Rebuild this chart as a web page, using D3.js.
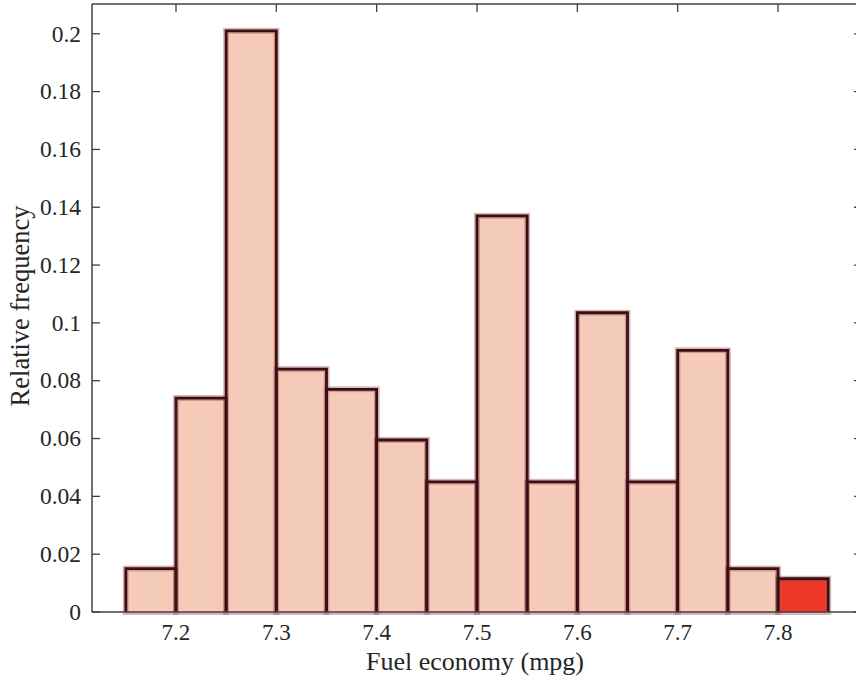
<!DOCTYPE html>
<html>
<head>
<meta charset="utf-8">
<script src="https://cdn.jsdelivr.net/npm/d3@7/dist/d3.min.js"></script>
<style>
  html, body { margin: 0; padding: 0; background: #fff; }
  svg { display: block; }
  svg text { font-family: "Liberation Serif", "DejaVu Serif", serif; fill: #262626; }
</style>
</head>
<body>
<svg id="chart" width="856" height="688" font-family="Liberation Serif, serif"></svg>
<script>
// Histogram bin edges (mpg) and relative frequency per bin
const binStarts = [7.15, 7.20, 7.25, 7.30, 7.35, 7.40, 7.45, 7.50, 7.55, 7.60, 7.65, 7.70, 7.75];
const binWidth = 0.05;
const frequencies = [0.015, 0.074, 0.201, 0.084, 0.077, 0.0595, 0.045, 0.137, 0.045, 0.1035, 0.045, 0.0905, 0.015];
// Highlighted bin (upper tail)
const highlightStarts = [7.80];
const highlightFreqs = [0.0115];

const xTicks = [7.2, 7.3, 7.4, 7.5, 7.6, 7.7, 7.8];
const yTicks = [0, 0.02, 0.04, 0.06, 0.08, 0.1, 0.12, 0.14, 0.16, 0.18, 0.2];

const svg = d3.select("#chart");
const mLeft = 92, mRight = 862, mTop = 4, mBottom = 612;

const x = d3.scaleLinear().domain([7.1163, 7.8837]).range([mLeft, mRight]);
const y = d3.scaleLinear().domain([0, 0.2103]).range([mBottom, mTop]);

const bins = binStarts.map((s, i) => ({ x0: s, x1: s + binWidth, v: frequencies[i], fill: "#f4cab9" }))
  .concat(highlightStarts.map((s, i) => ({ x0: s, x1: s + binWidth, v: highlightFreqs[i], fill: "#ee3726" })));

const g = svg.append("g");

// soft pink halo around each bar
g.selectAll("rect.halo").data(bins).join("rect")
  .attr("class", "halo")
  .attr("x", d => x(d.x0))
  .attr("y", d => y(d.v))
  .attr("width", d => x(d.x1) - x(d.x0))
  .attr("height", d => y(0) - y(d.v))
  .attr("fill", d => d.fill)
  .attr("stroke", "rgba(170,90,100,0.45)")
  .attr("stroke-width", 6);

// inner fill again so the halo only shows at the edges
g.selectAll("rect.fill").data(bins).join("rect")
  .attr("class", "fill")
  .attr("x", d => x(d.x0) + 3)
  .attr("y", d => y(d.v) + 3)
  .attr("width", d => x(d.x1) - x(d.x0) - 6)
  .attr("height", d => Math.max(0, y(0) - y(d.v) - 3))
  .attr("fill", d => d.fill);

// dark outline: left, top, right edges
g.selectAll("path.edge").data(bins).join("path")
  .attr("class", "edge")
  .attr("d", d => `M${x(d.x0)},${y(0)}V${y(d.v)}H${x(d.x1)}V${y(0)}`)
  .attr("fill", "none")
  .attr("stroke", "#3a0f12")
  .attr("stroke-width", 2.8);

// axes
const axisColor = "#404040";
const ax = svg.append("g");
ax.append("line").attr("x1", mLeft).attr("x2", mLeft).attr("y1", mTop).attr("y2", mBottom)
  .attr("stroke", axisColor).attr("stroke-width", 1.5);
ax.append("line").attr("x1", mLeft).attr("x2", mRight).attr("y1", mTop).attr("y2", mTop)
  .attr("stroke", axisColor).attr("stroke-width", 1.5);
ax.append("line").attr("x1", mLeft).attr("x2", mRight).attr("y1", mBottom).attr("y2", mBottom)
  .attr("stroke", axisColor).attr("stroke-width", 1.5);
ax.append("line").attr("x1", mRight).attr("x2", mRight).attr("y1", mTop).attr("y2", mBottom)
  .attr("stroke", axisColor).attr("stroke-width", 1.5);

// y ticks (inward on both sides) and labels
ax.selectAll("line.yl").data(yTicks).join("line").attr("class", "yl")
  .attr("x1", mLeft).attr("x2", mLeft + 8).attr("y1", d => y(d)).attr("y2", d => y(d))
  .attr("stroke", axisColor).attr("stroke-width", 1.3);
ax.selectAll("line.yr").data(yTicks).join("line").attr("class", "yr")
  .attr("x1", mRight).attr("x2", mRight - 8).attr("y1", d => y(d)).attr("y2", d => y(d))
  .attr("stroke", axisColor).attr("stroke-width", 1.3);
ax.selectAll("text.yt").data(yTicks).join("text").attr("class", "yt")
  .attr("x", mLeft - 11).attr("y", d => y(d)).attr("dy", "0.33em")
  .attr("text-anchor", "end").attr("font-size", 23.5)
  .text(d => d3.format("~g")(d));

// x ticks on top (inward) and labels below
ax.selectAll("line.xt").data(xTicks).join("line").attr("class", "xt")
  .attr("x1", d => x(d)).attr("x2", d => x(d)).attr("y1", mTop).attr("y2", mTop + 8)
  .attr("stroke", axisColor).attr("stroke-width", 1.3);
ax.selectAll("text.xl").data(xTicks).join("text").attr("class", "xl")
  .attr("x", d => x(d)).attr("y", 640)
  .attr("text-anchor", "middle").attr("font-size", 23)
  .text(d => d3.format(".1f")(d));

// axis titles
svg.append("text").attr("x", 475).attr("y", 670)
  .attr("text-anchor", "middle").attr("font-size", 26)
  .text("Fuel economy (mpg)");
svg.append("text").attr("transform", `translate(29,306) rotate(-90)`)
  .attr("text-anchor", "middle").attr("font-size", 26.5)
  .text("Relative frequency");
</script>
</body>
</html>
